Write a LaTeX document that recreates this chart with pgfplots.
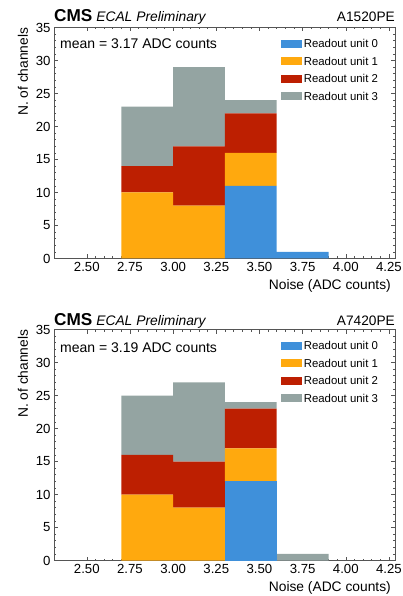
\documentclass[border=0pt]{standalone}
\usepackage{fontspec}
\setmainfont{Liberation Sans}
\usepackage{pgfplots}
\pgfplotsset{compat=1.18}
\definecolor{ru0}{HTML}{3F90DA}
\definecolor{ru1}{HTML}{FFA90E}
\definecolor{ru2}{HTML}{BD1F01}
\definecolor{ru3}{HTML}{94A4A2}
\definecolor{frame}{HTML}{555555}

% bins of width 0.3 (edges 2.7, 3.0, 3.3, 3.6, 3.9), plotted at bin centres
\pgfplotsset{
  ecal/.style={
    scale only axis, width=341pt, height=231pt,
    ybar stacked, bar width=0.3,
    xmin=2.31, xmax=4.285, ymin=0, ymax=35,
    xtick={2.5,2.75,3,3.25,3.5,3.75,4,4.25},
    ytick={0,5,10,15,20,25,30,35},
    minor x tick num=4, minor y tick num=4,
    tick align=inside, major tick length=4pt, minor tick length=2pt,
    axis line style={frame, line width=0.5pt},
    every tick/.style={frame, line width=0.5pt},
    tick label style={font=\fontsize{13.2}{15}\selectfont},
    /pgf/number format/assume math mode=true,
    xticklabel style={/pgf/number format/fixed, /pgf/number format/fixed zerofill,
      /pgf/number format/precision=2},
    xlabel={Noise (ADC counts)},
    ylabel={N. of channels},
    label style={font=\fontsize{13.8}{16}\selectfont},
    xlabel style={at={(1,0)}, anchor=east, inner sep=0pt, xshift=-4pt, yshift=-27pt},
    ylabel style={at={(0,1)}, anchor=east, inner sep=0pt, yshift=31pt},
    legend style={draw=none, fill=none, at={(0.666,0.955)}, anchor=north west,
      font=\fontsize{11.4}{13}\selectfont, row sep=6.6pt, inner sep=0pt,
      nodes={inner sep=1.5pt, text height=8pt, text depth=0pt}},
    legend cell align=left,
    legend image code/.code={\fill[##1] (0pt,-4pt) rectangle (21pt,4pt);},
    clip=false,
  },
  ubar/.style={fill=#1, draw=none, line width=0pt},
}

\begin{document}
\begin{tikzpicture}
\useasboundingbox (-54pt,27.5pt) rectangle (348pt,-568.5pt);

% ---- top panel: A1520PE
\begin{axis}[ecal, at={(0pt,0pt)}, anchor=north west]
\addplot[ubar=ru0] coordinates {(2.85,0) (3.15,0) (3.45,11) (3.75,1)};
\addplot[ubar=ru1] coordinates {(2.85,10) (3.15,8) (3.45,5) (3.75,0)};
\addplot[ubar=ru2] coordinates {(2.85,4) (3.15,9) (3.45,6) (3.75,0)};
\addplot[ubar=ru3] coordinates {(2.85,9) (3.15,12) (3.45,2) (3.75,0)};
\legend{Readout unit 0, Readout unit 1, Readout unit 2, Readout unit 3}
\node[anchor=west, inner sep=0pt, font=\fontsize{14}{16}\selectfont]
  at ([xshift=6pt, yshift=-16.5pt]rel axis cs:0,1) {mean = 3.17 ADC counts};
\node[anchor=base west, inner sep=0pt] at ([yshift=5.5pt]rel axis cs:0,1)
  {\fontsize{17.2}{20}\selectfont\bfseries CMS\fontsize{13.85}{16}\selectfont\mdseries\itshape\ ECAL Preliminary};
\node[anchor=base east, inner sep=0pt, font=\fontsize{13.7}{16}\selectfont]
  at ([yshift=5.5pt]rel axis cs:1,1) {A1520PE};
\end{axis}

% ---- bottom panel: A7420PE
\begin{axis}[ecal, at={(0pt,-302pt)}, anchor=north west]
\addplot[ubar=ru0] coordinates {(2.85,0) (3.15,0) (3.45,12) (3.75,0)};
\addplot[ubar=ru1] coordinates {(2.85,10) (3.15,8) (3.45,5) (3.75,0)};
\addplot[ubar=ru2] coordinates {(2.85,6) (3.15,7) (3.45,6) (3.75,0)};
\addplot[ubar=ru3] coordinates {(2.85,9) (3.15,12) (3.45,1) (3.75,1)};
\legend{Readout unit 0, Readout unit 1, Readout unit 2, Readout unit 3}
\node[anchor=west, inner sep=0pt, font=\fontsize{14}{16}\selectfont]
  at ([xshift=6pt, yshift=-18.5pt]rel axis cs:0,1) {mean = 3.19 ADC counts};
\node[anchor=base west, inner sep=0pt] at ([yshift=4.5pt]rel axis cs:0,1)
  {\fontsize{17.2}{20}\selectfont\bfseries CMS\fontsize{13.85}{16}\selectfont\mdseries\itshape\ ECAL Preliminary};
\node[anchor=base east, inner sep=0pt, font=\fontsize{13.7}{16}\selectfont]
  at ([yshift=4.5pt]rel axis cs:1,1) {A7420PE};
\end{axis}
\end{tikzpicture}
\end{document}
